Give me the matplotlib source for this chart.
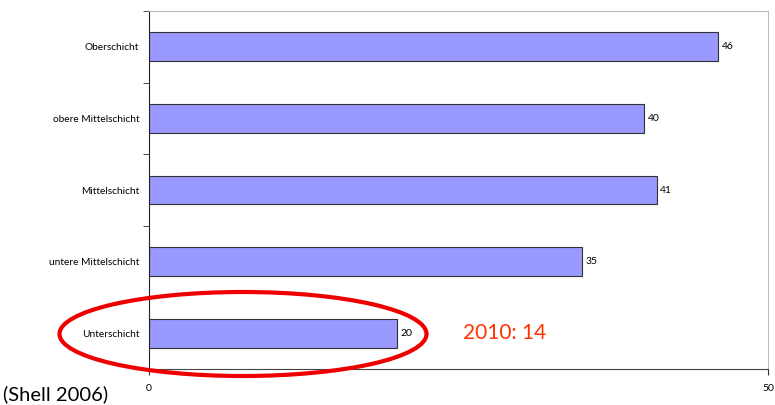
import matplotlib.pyplot as plt
from matplotlib.patches import Ellipse

categories = ["Oberschicht", "obere Mittelschicht", "Mittelschicht",
              "untere Mittelschicht", "Unterschicht"]
values = [46, 40, 41, 35, 20]
note_text = "2010: 14"
source_text = "(Shell 2006)"

plt.rcParams["font.family"] = ["Lato", "DejaVu Sans"]

fig = plt.figure(figsize=(7.75, 4.05), dpi=100)
ax = fig.add_axes([149 / 775, 1 - 369 / 405, 619 / 775, 358 / 405])

pos = list(range(len(categories)))
bars = ax.barh(pos, values, height=0.4, color="#9999ff",
               edgecolor="#333333", linewidth=0.8)
ax.set_ylim(len(categories) - 0.5, -0.5)
ax.set_xlim(0, 50)

for b, v in zip(bars, values):
    ax.text(b.get_width() + 0.3, b.get_y() + b.get_height() / 2, str(v),
            va="center", ha="left", fontsize=7.5)

ax.set_yticks(pos)
ax.set_yticklabels(categories, fontsize=7.3)
ax.tick_params(axis="y", which="major", length=0, pad=7)
ax.set_yticks([p - 0.5 for p in pos] + [len(pos) - 0.5], minor=True)
ax.tick_params(axis="y", which="minor", length=4, direction="out",
               color="#333333")

ax.set_xticks([0, 50])
ax.tick_params(axis="x", length=4, direction="out", labelsize=7.5,
               color="#333333", pad=7)

ax.spines["left"].set_color("#222222")
ax.spines["bottom"].set_color("#444444")
ax.spines["top"].set_color("#bbbbbb")
ax.spines["right"].set_color("#bbbbbb")
for s in ax.spines.values():
    s.set_linewidth(0.8)

ell = Ellipse((243 / 775, 1 - 334 / 405), 367 / 775, 84 / 405,
              transform=fig.transFigure, fill=False, edgecolor="#ee0000",
              linewidth=3, clip_on=False)
fig.add_artist(ell)

fig.text(463 / 775, 1 - 333 / 405, note_text, color="#ff3300",
         fontsize=15, va="center", ha="left")
fig.text(3 / 775, 1 - 394 / 405, source_text, color="black",
         fontsize=14.5, va="center", ha="left")

fig.savefig("out.png", dpi=100)
